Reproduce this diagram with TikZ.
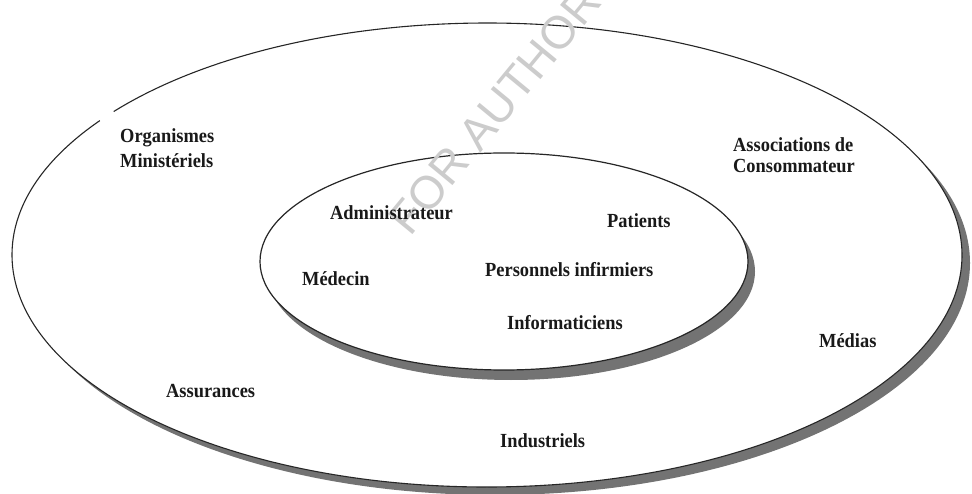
\documentclass[tikz,border=0pt]{standalone}
\usepackage{fontspec}
\newfontfamily\lblfont[FakeStretch=0.92]{Liberation Serif}
\newfontfamily\wmfont{Liberation Sans}
\begin{document}
\begin{tikzpicture}[x=1pt,y=1pt,
  label/.style={font=\lblfont\bfseries\fontsize{20}{22}\selectfont, inner sep=0pt, text=black!90},
  ring/.style={draw=black!85, fill=white},
  shade/.style={fill=black!55, draw=none},
  wmark/.style={font=\wmfont\fontsize{46}{46}\selectfont, text=black!20, inner sep=0pt}]
  \useasboundingbox (0,0) rectangle (972,-494);
  \begin{scope}
    \clip (0,0) rectangle (972,-494);

    % outer ring: shadow, body, outline with a small break at the upper left
    \fill[shade] (495,-263) ellipse [x radius=475, y radius=232];
    \fill[white] (487,-255) ellipse [x radius=475, y radius=232];
    \draw[black!85, line width=1.1pt]
      (487,-255) ++(144.6:475 and 232) arc [start angle=144.6, end angle=501.8, x radius=475, y radius=232];

    % inner ring
    \fill[shade] (511,-271.5) ellipse [x radius=244, y radius=108.5];
    \draw[ring, line width=1.2pt] (504,-261.5) ellipse [x radius=244, y radius=108.5];

    % watermark laid over the rings
    \node[wmark, rotate=50.5, anchor=base west] (wm) at (410,-238) {FOR AUTHOR};
  \end{scope}

  % outer ring labels
  \node[label, anchor=base west] (org1) at (120,-143) {Organismes};
  \node[label, anchor=base west] (org2) at (120,-168) {Ministériels};
  \node[label, anchor=base west] (asc1) at (733,-152) {Associations de};
  \node[label, anchor=base west] (asc2) at (733,-173) {Consommateur};
  \node[label, anchor=base west] (med) at (819,-348) {Médias};
  \node[label, anchor=base west] (ass) at (166,-397) {Assurances};
  \node[label, anchor=base west] (ind) at (500,-447) {Industriels};

  % inner ring labels
  \node[label, anchor=base west] (adm) at (330,-220) {Administrateur};
  \node[label, anchor=base west] (pat) at (607,-228) {Patients};
  \node[label, anchor=base west] (doc) at (302,-286) {Médecin};
  \node[label, anchor=base west] (inf) at (485,-277) {Personnels infirmiers};
  \node[label, anchor=base west] (it) at (507,-330) {Informaticiens};
\end{tikzpicture}
\end{document}
